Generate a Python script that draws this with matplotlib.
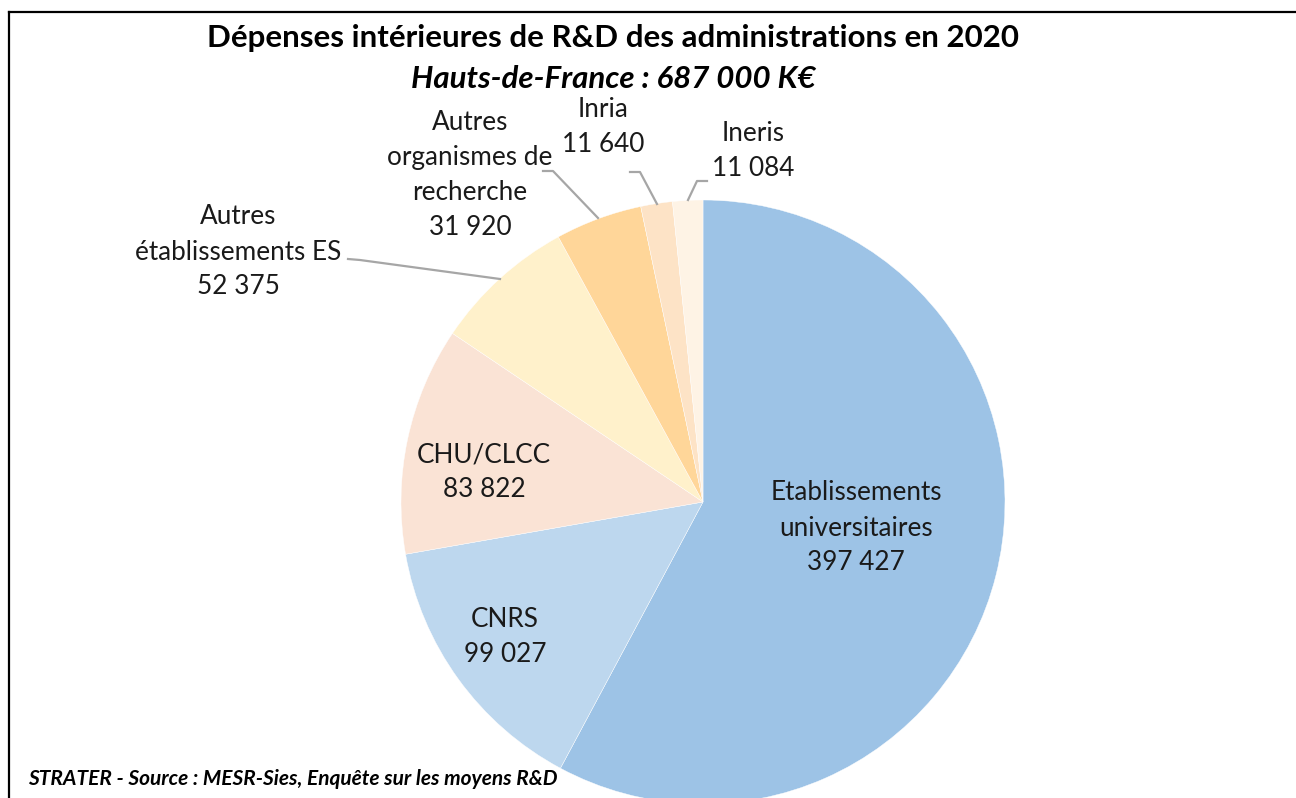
import matplotlib.pyplot as plt

# Donnees (K€)
categories = ["Etablissements\nuniversitaires", "CNRS", "CHU/CLCC",
              "Autres\nétablissements ES", "Autres\norganismes de\nrecherche",
              "Inria", "Ineris"]
valeurs = [397427, 99027, 83822, 52375, 31920, 11640, 11084]
valeurs_txt = ["397 427", "99 027", "83 822", "52 375", "31 920", "11 640", "11 084"]

couleurs = ["#9DC3E6", "#BDD7EE", "#FAE3D5", "#FFF1CB", "#FFD699", "#FDE3C6", "#FEF3E5"]

W, H = 1296, 798
plt.rcParams['font.family'] = ['Lato', 'DejaVu Sans']

fig = plt.figure(figsize=(W / 100, H / 100), dpi=100)
ax = fig.add_axes([0, 0, 1, 1])


def Y(y):
    # coordonnees image -> axes (y vers le haut)
    return H - y


ax.pie(valeurs, colors=couleurs, startangle=90, counterclock=False,
       center=(703, Y(502)), radius=302,
       wedgeprops=dict(linewidth=0.3, edgecolor='white'),
       frame=True)
ax.set_xlim(0, W)
ax.set_ylim(0, H)
ax.set_aspect('equal')
ax.axis('off')

# positions des etiquettes (pixels image)
pos = [(856, 528), (505, 637), (484, 472), (238, 252), (470, 175), (603, 127), (753, 151)]
for cat, txt, (x, y) in zip(categories, valeurs_txt, pos):
    ax.text(x, Y(y), cat + "\n" + txt, ha='center', va='center', fontsize=18.8,
            color='#1a1a1a', linespacing=1.5)

# lignes de rappel
gris = '#A6A6A6'
lignes = [
    [(348, 259), (360, 260), (500, 279)],
    [(543, 171), (553, 171), (598, 218)],
    [(630, 172), (640, 172), (657, 204)],
    [(707, 181), (697, 181), (688, 200)],
]
for pts in lignes:
    ax.plot([p[0] for p in pts], [Y(p[1]) for p in pts], color=gris, lw=1.6)

# titres
ax.text(613, Y(38), "Dépenses intérieures de R&D des administrations en 2020",
        ha='center', va='center', fontsize=22.5, fontweight='bold', color='black')
ax.text(613, Y(79), "Hauts-de-France : 687 000 K€", ha='center', va='center',
        fontsize=22.5, fontweight='bold', fontstyle='italic', color='black')
ax.text(28, Y(779), "STRATER - Source : MESR-Sies, Enquête sur les moyens R&D",
        ha='left', va='center', fontsize=15, fontweight='bold', fontstyle='italic',
        color='black')

# cadre
ax.plot([9, W], [Y(12), Y(12)], color='black', lw=1.6, clip_on=False)
ax.plot([9, 9], [Y(12), 0], color='black', lw=1.6, clip_on=False)

fig.savefig("out.png", dpi=100)
